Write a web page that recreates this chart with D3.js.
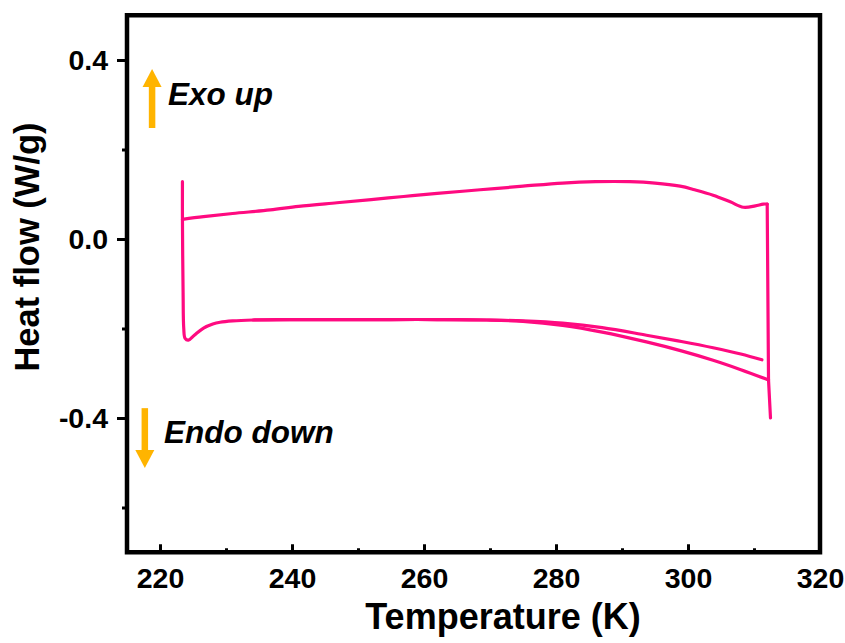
<!DOCTYPE html>
<html>
<head>
<meta charset="utf-8">
<script src="https://cdn.jsdelivr.net/npm/d3@7"></script>
<style>
  html, body { margin: 0; padding: 0; background: #ffffff; }
  svg { display: block; }
  text { font-family: "Liberation Sans", Arial, sans-serif; }
</style>
</head>
<body>
<svg id="chart" width="845" height="643"></svg>
<script>
// ---- data ----
const xTicks = [220, 240, 260, 280, 300, 320];
const xMinorTicks = [230, 250, 270, 290, 310];
const yTicks = [-0.4, 0.0, 0.4];
const yMinorTicks = [-0.6, -0.2, 0.2];

// cooling segment (upper curve), from hot end to cold end
const coolT  = [312.0, 311.4, 310.2, 308.4, 306.4, 303.8, 301.0, 298.8, 295.0, 291.2, 286.0, 281.0, 275.0, 268.5, 262.0, 256.9, 252.0, 246.8, 241.0, 236.7, 231.0, 226.6, 223.4];
const coolHF = [0.078, 0.078, 0.074, 0.071, 0.083, 0.098, 0.110, 0.118, 0.125, 0.128, 0.128, 0.125, 0.118, 0.110, 0.102, 0.095, 0.088, 0.081, 0.073, 0.065, 0.057, 0.050, 0.044];

// first heating segment (left jump, hook, lower curve ending in the right jump)
const heat1T  = [223.4, 223.4, 223.5, 223.6, 223.8, 224.3, 225.2, 226.6, 228.0, 229.1, 231.0, 234.1, 240.0, 246.8, 255.0, 262.0, 269.5, 275.0, 281.0, 287.0, 293.7, 299.0, 303.8, 308.0, 312.2];
const heat1HF = [0.128, 0.044, -0.120, -0.200, -0.222, -0.226, -0.215, -0.199, -0.190, -0.186, -0.183, -0.181, -0.180, -0.180, -0.180, -0.180, -0.181, -0.184, -0.193, -0.208, -0.230, -0.250, -0.271, -0.292, -0.315];

// second heating segment (lower curve that stops before the jump)
const heat2T  = [234.1, 240.0, 246.8, 255.0, 262.0, 269.5, 275.0, 281.0, 287.0, 293.7, 299.0, 303.8, 308.0, 311.2];
const heat2HF = [-0.181, -0.180, -0.180, -0.180, -0.180, -0.181, -0.183, -0.188, -0.198, -0.215, -0.229, -0.243, -0.257, -0.270];

// right-hand vertical jump
const jumpT  = [312.0, 312.2, 312.5];
const jumpHF = [0.078, -0.315, -0.400];

// annotations
const annoLabels = ["Exo up", "Endo down"];
const annoTextT  = [221.2, 220.6];
const annoTextHF = [0.300, -0.456];
const arrowT     = [218.8, 217.7];
const arrowFrom  = [0.248, -0.378];
const arrowTo    = [0.380, -0.512];

const xTitle = "Temperature (K)";
const yTitle = "Heat flow (W/g)";

// ---- drawing ----
const svg = d3.select("#chart");
const lineColor = "#ff0a80";
const arrowColor = "#ffb400";

const x = d3.scaleLinear().domain([215, 320]).range([127, 820]);
const y = d3.scaleLinear().domain([-0.7, 0.5]).range([552.25, 15.25]);

const curve = d3.line()
  .x(d => x(d[0])).y(d => y(d[1]))
  .curve(d3.curveCatmullRom.alpha(0.5));
const straight = d3.line()
  .x(d => x(d[0])).y(d => y(d[1]));

const zip = (a, b) => a.map((v, i) => [v, b[i]]);

const plot = svg.append("g");
function drawPath(gen, pts) {
  plot.append("path").attr("d", gen(pts))
    .attr("fill", "none").attr("stroke", lineColor).attr("stroke-width", 3.2)
    .attr("stroke-linejoin", "round").attr("stroke-linecap", "round");
}
drawPath(curve, zip(heat2T, heat2HF));
drawPath(curve, zip(heat1T, heat1HF));
drawPath(curve, zip(coolT, coolHF));
drawPath(straight, zip(jumpT, jumpHF));

// axes
const fmt = d => d.toFixed(1);
const xAxis = svg.append("g").attr("transform", `translate(0,${y(-0.7)})`)
  .call(d3.axisBottom(x).tickValues(xTicks).tickSize(-8).tickPadding(16));
const xMinor = svg.append("g").attr("transform", `translate(0,${y(-0.7)})`)
  .call(d3.axisBottom(x).tickValues(xMinorTicks).tickSize(-4).tickFormat(""));
const yAxis = svg.append("g").attr("transform", `translate(${x(215)},0)`)
  .call(d3.axisLeft(y).tickValues(yTicks).tickSize(10).tickPadding(9).tickFormat(fmt));
const yMinor = svg.append("g").attr("transform", `translate(${x(215)},0)`)
  .call(d3.axisLeft(y).tickValues(yMinorTicks).tickSize(5).tickFormat(""));

[xAxis, xMinor, yAxis, yMinor].forEach(g => {
  g.select(".domain").remove();
  g.selectAll(".tick line").attr("stroke", "#000").attr("stroke-width", 3);
  g.selectAll(".tick text").attr("fill", "#000")
    .style("font-size", "28.5px").style("font-weight", "bold")
    .style("font-family", "'Liberation Sans', Arial, sans-serif");
});

// frame
svg.append("rect")
  .attr("x", x(215)).attr("y", y(0.5))
  .attr("width", x(320) - x(215)).attr("height", y(-0.7) - y(0.5))
  .attr("fill", "none").attr("stroke", "#000").attr("stroke-width", 4.5);

// annotation arrows
annoLabels.forEach((lab, i) => {
  const ax = x(arrowT[i]), y0 = y(arrowFrom[i]), y1 = y(arrowTo[i]);
  const dir = y1 < y0 ? -1 : 1;
  const headLen = 18, headHalf = 9.5;
  svg.append("line")
    .attr("x1", ax).attr("x2", ax)
    .attr("y1", y0).attr("y2", y1 - dir * headLen)
    .attr("stroke", arrowColor).attr("stroke-width", 6.5);
  svg.append("path")
    .attr("d", `M${ax},${y1} L${ax - headHalf},${y1 - dir * headLen} L${ax + headHalf},${y1 - dir * headLen} Z`)
    .attr("fill", arrowColor);
  svg.append("text")
    .attr("x", x(annoTextT[i])).attr("y", y(annoTextHF[i]))
    .attr("font-size", 31.5).attr("font-weight", "bold").attr("font-style", "italic")
    .attr("fill", "#000").text(lab);
});

// axis titles
svg.append("text")
  .attr("x", 503).attr("y", 629).attr("text-anchor", "middle")
  .attr("font-size", 36).attr("font-weight", "bold").attr("fill", "#000")
  .text(xTitle);
svg.append("text")
  .attr("transform", "translate(39,247) rotate(-90)").attr("text-anchor", "middle")
  .attr("font-size", 34.5).attr("font-weight", "bold").attr("fill", "#000")
  .text(yTitle);
</script>
</body>
</html>
